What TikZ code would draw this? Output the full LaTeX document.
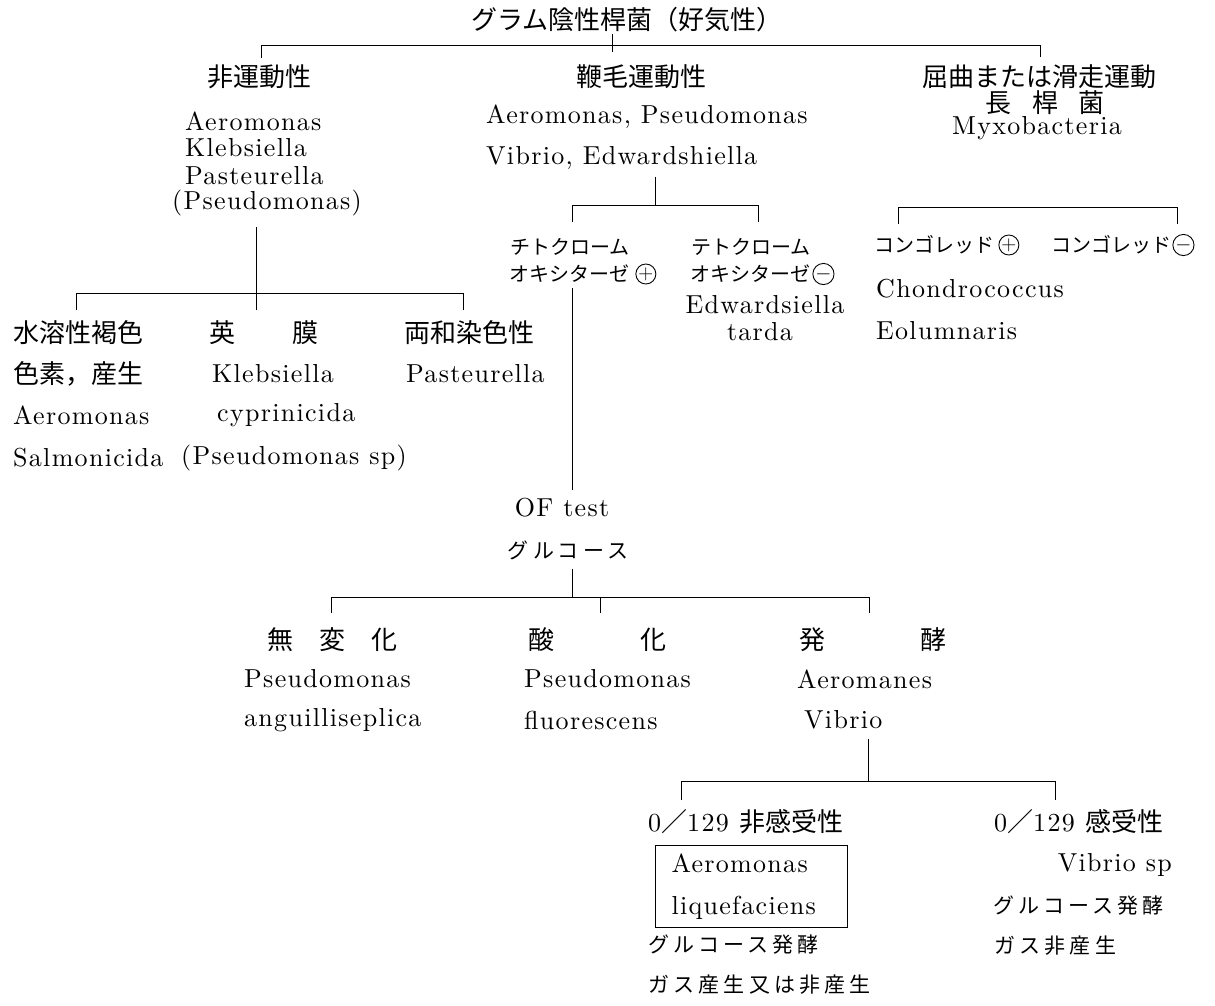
\documentclass[tikz,border=0pt]{standalone}
\usepackage{fontspec}
\setmainfont{lmroman10-regular.otf}[LetterSpace=5]
\newfontfamily\jp{Noto Sans CJK JP}
\newfontfamily\jpsp{Noto Sans CJK JP}[LetterSpace=20]
\usetikzlibrary{positioning}

\begin{document}
\begin{tikzpicture}[x=1pt,y=-1pt]
		\tikzset{
			every node/.style=
			{inner sep=1pt,font=\fontsize{26}{28}\selectfont},
			jtxt/.style={font=\jp\fontsize{26}{28}\selectfont},
			kana/.style={font=\jp\fontsize{20}{22}\selectfont},
			skana/.style={font=\jpsp\fontsize{21}{23}\selectfont},
			sgn/.style=
			{circle,draw,line width=0.9pt,minimum size=20pt,inner sep=0pt,font=\fontsize{21}{21}\selectfont},
			fork/.style={line width=1pt},
		}
		\useasboundingbox (0,0) rectangle (1215,1005);
		\begin{scope}
		\node[jtxt] (gram) at (627,20) {グラム陰性桿菌（好気性）};
		\node[jtxt] (nonmot) at (259,77) {非運動性};
		\node[jtxt] (flag) at (641,77) {鞭毛運動性};
		\node[jtxt] (glide) at (1039,77) {屈曲または滑走運動};
		\node[jtxt] (rod) at (1045,103) {長\hspace{0.8em}桿\hspace{0.8em}菌};
		\node (myxo) at (1037,128) {Myxobacteria};
		\coordinate (brA) at (612,45);
		\coordinate (brA-l) at (261,45);
		\coordinate (brA-r) at (1040,45);
		\draw[fork] (gram.south -| brA) -- ([yshift=-7pt]brA);
		\draw[fork] ([yshift=-13pt]brA-l) -- (brA-l) -- (brA-r) -- ([yshift=-12pt]brA-r);
		\end{scope}
		\begin{scope}[every node/.append style={anchor=west}]
		\node (nmA) at (184,121) {Aeromonas};
		\node (nmK) at (184,148) {Klebsiella};
		\node (nmP) at (184,176) {Pasteurella};
		\node (nmS) at (171,203) {(Pseudomonas)};
		\node (flA) at (485,117) {Aeromonas, Pseudomonas};
		\node (flV) at (485,158) {Vibrio, Edwardshiella};
		\node[jtxt] (pig1) at (12,333) {水溶性褐色};
		\node[jtxt] (pig2) at (12,374) {色素，産生};
		\node (pig3) at (12,415) {Aeromonas};
		\node (pig4) at (12,458) {Salmonicida};
		\node[jtxt] (cap1) at (208,333) {英\hspace{2.2em}膜};
		\node (cap2) at (211,374) {Klebsiella};
		\node (cap3) at (216,415) {cyprinicida};
		\node (cap4) at (180,458) {(Pseudomonas sp)};
		\node[jtxt] (bip1) at (403,333) {両和染色性};
		\node (bip2) at (405,374) {Pasteurella};
		\coordinate (brB) at (256,293);
		\coordinate (brB-l) at (76,293);
		\coordinate (brB-r) at (463,293);
		\draw[fork] ([yshift=-10pt]nmS.south -| brB) -- ([yshift=-17pt]brB);
		\draw[fork] ([yshift=-17pt]brB-l) -- (brB-l) -- (brB-r) -- ([yshift=-17pt]brB-r);
		\end{scope}
		\begin{scope}
		\node[kana,anchor=west] (oxp1) at (509,247) {チトクローム};
		\node[kana,anchor=west] (oxp2) at (508,274) {オキシターゼ};
		\node[sgn,right=5pt of oxp2] (oxps) {$+$};
		\node[kana,anchor=west] (oxn1) at (690,247) {テトクローム};
		\node[kana,anchor=west] (oxn2) at (689,274) {オキシターゼ};
		\node[sgn,right=1pt of oxn2] (oxns) {$-$};
		\node (edw1) at (765,305) {Edwardsiella};
		\node (edw2) at (760,332) {tarda};
		\node[kana,anchor=west] (cgp) at (873,245) {コンゴレッド};
		\node[sgn,right=3pt of cgp] (cgps) {$+$};
		\node[kana,anchor=west] (cgn) at (1050,245) {コンゴレッド};
		\node[sgn,right=0pt of cgn] (cgns) {$-$};
		\node[anchor=west] (chon) at (875,289) {Chondrococcus};
		\node[anchor=west] (eolu) at (875,331) {Eolumnaris};
		\coordinate (brC) at (655,205);
		\coordinate (brC-l) at (572,205);
		\coordinate (brC-r) at (758,205);
		\coordinate (brG-l) at (898,207);
		\coordinate (brG-r) at (1177,207);
		\draw[fork] ([yshift=-6pt]flV.south -| brC) -- (brC);
		\draw[fork] ([yshift=-17pt]brC-l) -- (brC-l) -- (brC-r) -- ([yshift=-17pt]brC-r);
		\draw[fork] ([yshift=-17pt]brG-l) -- (brG-l) -- (brG-r) -- ([yshift=-17pt]brG-r);
		\end{scope}
		\begin{scope}
		\node (oft) at (562,508) {OF test};
		\node[skana] (glu) at (568,550) {グルコース};
		\draw[fork] ([yshift=-4pt]oxp2.south -| brC-l) -- ([yshift=7pt]oft.north -| brC-l);
		\node[jtxt,anchor=west] (nochg) at (266,640) {無\hspace{1em}変\hspace{1em}化};
		\node[jtxt,anchor=west] (oxid) at (527,640) {酸\hspace{3.3em}化};
		\node[jtxt,anchor=west] (ferm) at (798,640) {発\hspace{3.65em}酵};
		\node[anchor=west] (ncA) at (243,679) {Pseudomonas};
		\node[anchor=west] (ncB) at (243,720) {anguilliseplica};
		\node[anchor=west] (oxA) at (523,679) {Pseudomonas};
		\node[anchor=west] (oxB) at (523,720) {fluorescens};
		\node[anchor=west] (fmA) at (796,679) {Aeromanes};
		\node[anchor=west] (fmB) at (803,720) {Vibrio};
		\coordinate (brE) at (572,597);
		\coordinate (brE-l) at (331,597);
		\coordinate (brE-m) at (600,597);
		\coordinate (brE-r) at (869,597);
		\draw[fork] ([yshift=-8pt]glu.south -| brE) -- (brE);
		\draw[fork] ([yshift=-16pt]brE-l) -- (brE-l) -- (brE-r) -- ([yshift=-16pt]brE-r);
		\draw[fork] (brE-m) -- ([yshift=-16pt]brE-m);
		\end{scope}
		\begin{scope}
		\node[anchor=west] (insens) at (647,822) {0{\jp ／}129\hspace{0.4em}{\jp 非感受性}};
		\node[draw,line width=1pt,anchor=north west,text width=160pt,align=left,inner xsep=16pt,inner ysep=8pt,font=\fontsize{26}{42}\selectfont] (liq) at (655,845) {Aeromonas\\liquefaciens};
		\node[skana,anchor=west] (liqG) at (647,945) {グルコース発酵};
		\node[skana,anchor=west] (liqS) at (647,985) {ガス産生又は非産生};
		\node[anchor=west] (sens) at (993,822) {0{\jp ／}129\hspace{0.4em}{\jp 感受性}};
		\node[anchor=east] (vsp) at (1173,865) {Vibrio sp};
		\node[skana,anchor=west] (vspG) at (992,906) {グルコース発酵};
		\node[skana,anchor=west] (vspS) at (993,946) {ガス非産生};
		\coordinate (brF) at (868,781);
		\coordinate (brF-l) at (681,781);
		\coordinate (brF-r) at (1055,781);
		\draw[fork] ([yshift=-8pt]fmB.south -| brF) -- (brF);
		\draw[fork] ([yshift=-19pt]brF-l) -- (brF-l) -- (brF-r) -- ([yshift=-19pt]brF-r);
		\end{scope}
\end{tikzpicture}
\end{document}
